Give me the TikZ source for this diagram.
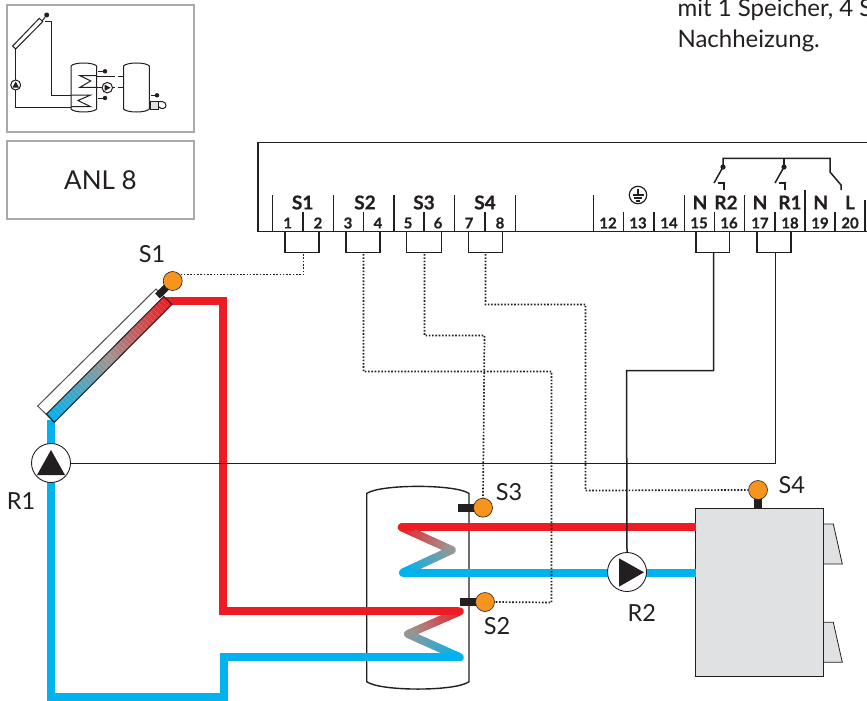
\documentclass[tikz,border=0pt]{standalone}
\usepackage{fontspec}
\setmainfont{Lato}
\usetikzlibrary{calc}
\definecolor{ink}{HTML}{231F20}
\definecolor{pipered}{HTML}{ED1C24}
\definecolor{pipeblue}{HTML}{00B2EE}
\definecolor{midgray}{HTML}{A09490}
\definecolor{sensorfill}{HTML}{F7941D}
\definecolor{boilerfill}{HTML}{DFE1E3}
\definecolor{framegray}{HTML}{A7A9AC}
\newcommand{\setgrad}[1]{%
  \pgfmathsetmacro{\gpa}{#1<0.5 ? 100-#1*200 : 0}%
  \pgfmathsetmacro{\gpb}{#1<0.5 ? 0 : #1*200-100}%
  \pgfmathtruncatemacro{\gsel}{#1<0.5 ? 1 : 0}%
  \ifnum\gsel=1 \colorlet{gc}{pipered!\gpa!midgray}\else\colorlet{gc}{pipeblue!\gpb!midgray}\fi}
\newcommand{\gradline}[3]{%
  \foreach \k in {0,...,19}{%
    \pgfmathsetmacro{\ta}{\k/20}%
    \pgfmathsetmacro{\tb}{(\k+1)/20}%
    \pgfmathsetmacro{\tg}{#3+(\k+0.5)/40}%
    \setgrad{\tg}%
    \draw[line width=8pt,line cap=round,color=gc] ($(#1)!\ta!(#2)$) -- ($(#1)!\tb!(#2)$);
  }}
\tikzset{
  frame/.style={draw=framegray,line width=1.2pt},
  redpipe/.style={draw=pipered,line width=8pt},
  bluepipe/.style={draw=pipeblue,line width=8pt},
  sensor/.style={circle,draw=ink,line width=0.6pt,fill=sensorfill,minimum size=19pt,inner sep=0pt},
  pumpnode/.style={circle,draw=ink,line width=0.9pt,fill=white,minimum size=39pt,inner sep=0pt},
  dotwire/.style={draw=ink,line width=1.7pt,dash pattern=on 1.6pt off 1.7pt},
  wire/.style={draw=ink,line width=1.5pt},
  block/.style={draw=ink,line width=1.5pt},
  lbl/.style={font=\fontsize{23.5}{25}\selectfont,text=ink,inner sep=0pt},
  body/.style={font=\fontsize{24}{26}\selectfont,text=ink,inner sep=0pt,anchor=base west},
  sname/.style={font=\fontsize{19}{20}\selectfont\bfseries\addfontfeature{FakeBold=0.5},text=ink,inner sep=0pt},
  tnum/.style={font=\fontsize{15}{17}\selectfont\bfseries\addfontfeature{FakeBold=0.5},text=ink,inner sep=0pt},
  ico/.style={draw=ink,line width=1pt},
}
\begin{document}
\begin{tikzpicture}[x=1pt,y=-1pt]
\useasboundingbox (0,0) rectangle (867,701);
% --- text top right
\node[body] (t1) at (677.3,16.5) {mit 1 Speicher, 4 S};
\node[body] (t2) at (677.3,47.5) {Nachheizung.};
% --- frames
\draw[frame] (7,5) rectangle (194,132);
\node[draw=framegray,line width=1.2pt,minimum width=187pt,minimum height=78pt,inner sep=0pt,font=\fontsize{26}{28}\selectfont,text=ink] (anl) at (100.5,180) {ANL 8};
% --- icon
\draw[ico,fill=white] (12.7,46) -- (39.3,18.3) -- (42.7,21.7) -- (15.7,49) -- cycle;
\node[circle,fill=ink,minimum size=5pt,inner sep=0pt] (id1) at (46.7,15) {};
\draw[ico] (id1) -- (42,21);
\draw[ico] (45,22) -- (51,22) -- (51,95) -- (71,95);
\draw[ico] (15.7,49) -- (15.7,107) -- (71,107);
\node[circle,draw=ink,line width=1pt,minimum size=10pt,inner sep=0pt,fill=white] (ip1) at (15.7,85) {};
\fill[ink] (15.7,81.5) -- (19,87.5) -- (12.4,87.5) -- cycle;
\draw[ico] (71,66) .. controls (74,62) and (93,62) .. (96.7,66) -- (96.7,109) .. controls (93,113) and (74,113) .. (71,109) -- cycle;
\draw[ico] (123.5,66) .. controls (127,62) and (146,62) .. (149.3,66) -- (149.3,109) .. controls (146,113) and (127,113) .. (123.5,109) -- cycle;
\draw[ico] (96.7,75.7) -- (80,75.7) -- (90.7,81) -- (80,87.3) -- (96.7,87.3);
\draw[ico] (71,95) -- (90.7,95) -- (78,100.5) -- (90.7,106.7) -- (71,106.7);
\node[circle,fill=ink,minimum size=4.5pt,inner sep=0pt] (id2) at (105,71.3) {};
\node[circle,fill=ink,minimum size=4.5pt,inner sep=0pt] (id3) at (105,98) {};
\node[circle,fill=ink,minimum size=4.5pt,inner sep=0pt] (id4) at (157,95.3) {};
\draw[ico] (98,71.3) -- (id2);
\draw[ico] (98,98) -- (id3);
\draw[ico] (151,95.3) -- (id4);
\draw[ico] (96.7,76) -- (115,76);
\draw[ico] (118,76) -- (123.5,76);
\draw[ico] (96.7,87.7) -- (115,87.7);
\draw[ico] (118,87.7) -- (123.5,87.7);
\node[circle,draw=ink,line width=1pt,minimum size=10.5pt,inner sep=0pt,fill=white] (ip2) at (107.3,87.7) {};
\fill[ink] (104.5,84.5) -- (110.5,87.7) -- (104.5,91) -- cycle;
\draw[ico,fill=boilerfill] (150.7,101.5) rectangle (158,109.3);
\draw[ico] (158,102) .. controls (160,101) and (166,101) .. (166,105.5) .. controls (166,109) and (161,109.5) .. (159,107);
% --- terminal block
\draw[block] (258,232) -- (258,142.7) -- (867,142.7);
\draw[block] (258,231.7) -- (867,231.7);
\foreach \x in {272.7,333.3,394,454.3,515.7,593.3,684.3,744.3}
  \draw[block] (\x,195) -- (\x,231.7);
\draw[block] (805,190) -- (805,231.7);
\draw[block] (865,200) -- (865,231.7);
\foreach \x in {303,363.7,424,485,623.7,654,714.3,775,835}
  \draw[block] (\x,212) -- (\x,231.7);
\node[sname] (nS1) at (302.7,202.5) {S1};
\node[sname] (nS2) at (365,202.5) {S2};
\node[sname] (nS3) at (424,202.5) {S3};
\node[sname] (nS4) at (485,202.5) {S4};
\node[sname] (nN1) at (700,202.5) {N};
\node[sname] (nR2) at (726,202.5) {R2};
\node[sname] (nN2) at (760,202.5) {N};
\node[sname] (nR1) at (790,202.5) {R1};
\node[sname] (nN3) at (820.7,202.5) {N};
\node[sname] (nL) at (850,202.5) {L};
\foreach \x/\n in {287.7/1,318/2,348/3,378/4,408/5,438/6,469/7,500/8,608/12,638/13,669/14,699/15,729/16,760/17,790/18,820/19,850/20}
  \node[tnum] (term\n) at (\x,223) {\n};
% earth
\draw[ink,line width=1.2pt] (638,195) circle (8.7pt);
\draw[ink,line width=1.1pt] (638,188.5) -- (638,195) (632.5,195) -- (643.5,195) (634,198) -- (642,198) (636,201) -- (640,201);
% relays
\draw[block] (723,167) -- (723,158.3) -- (830,158.3) -- (830,172) -- (841,185) -- (841,190);
\draw[block] (784,158.3) -- (784,167);
\fill[ink] (723,167) circle (2.6pt) (784,167) circle (2.6pt);
\draw[block] (723,167) -- (714,183);
\draw[block] (784,167) -- (775,183);
\draw[wire] (718,183) -- (724,183) -- (724,190);
\draw[wire] (779,183) -- (785,183) -- (785,190);
% connectors brackets
\foreach \a/\b in {285/319,346/380,406.7/441.3,468.3/502.3,696/729.7,757/791}
  \draw[block] (\a,231.7) -- (\a,252.5) -- (\b,252.5) -- (\b,231.7);
\coordinate (bS1) at (303.5,254);
\coordinate (bS2) at (363.5,254);
\coordinate (bS3) at (424.5,254);
\coordinate (bS4) at (485.5,254);
\coordinate (bR2) at (713.5,252.5);
\coordinate (bR1) at (775.5,252.5);
% --- tank
\draw[ink,line width=1.4pt] (366.7,493.5) .. controls (380,484) and (456,484) .. (469,493.5) -- (469,681.7) .. controls (456,691.5) and (380,691.5) .. (366.7,681.7) -- cycle;
% --- boiler
\draw[draw=ink,line width=0.8pt,fill=boilerfill] (823.3,524) -- (833.3,524) -- (842.3,564) -- (823.3,564) -- cycle;
\draw[draw=ink,line width=0.8pt,fill=boilerfill] (823.3,622.3) -- (833.3,622.3) -- (842.3,662.3) -- (823.3,662.3) -- cycle;
\node[draw=ink,line width=1.1pt,fill=boilerfill,minimum width=127.6pt,minimum height=168.4pt,inner sep=0pt] (boiler) at (759.5,592.5) {};
% --- pipes
\draw[redpipe] (165,300.7) -- (223.3,300.7) -- (223.3,611.3) -- (362,611.3) -- (456,611.3);
\draw[bluepipe] (51,420) -- (51,696.5) -- (224,696.5) -- (224,657.3) -- (456,657.3);
\draw[redpipe] (401.7,527.3) -- (696,527.3);
\draw[bluepipe] (403,572.5) -- (696,572.5);
% coils
\coordinate (cA) at (401.7,527.3);
\coordinate (cB) at (451.7,550);
\coordinate (cC) at (403,572.5);
\coordinate (cD) at (460,611.3);
\coordinate (cE) at (408,634);
\coordinate (cF) at (460,657.3);
\gradline{cA}{cB}{0}
\gradline{cB}{cC}{0.5}
\gradline{cD}{cE}{0}
\gradline{cE}{cF}{0.5}
\draw[line width=8pt,line cap=round,pipered] (401.7,527.3) -- (412,527.3);
\draw[line width=8pt,line cap=round,pipeblue] (403,572.5) -- (412,572.5);
\draw[line width=8pt,line cap=round,pipered] (440,611.3) -- (458,611.3);
\draw[line width=8pt,line cap=round,pipeblue] (440,657.3) -- (458,657.3);
% --- collector
\draw[ink!80,line width=1pt,fill=white] (37.7,406) -- (156,289) -- (171.7,304.3) -- (54.3,422.3) -- cycle;
\coordinate (pA) at (163.8,296.5);
\coordinate (pB) at (171.9,304.3);
\coordinate (pC) at (46.5,414);
\coordinate (pD) at (54.3,422.3);
\foreach \k in {0,...,39}{
  \pgfmathsetmacro{\ta}{\k/40}
  \pgfmathsetmacro{\tb}{(\k+1)/40}
  \pgfmathsetmacro{\tg}{(\k+0.5)/40}
  \setgrad{\tg}
  \filldraw[fill=gc,draw=gc,line width=0.4pt] ($(pA)!\ta!(pC)$) -- ($(pA)!\tb!(pC)$) -- ($(pB)!\tb!(pD)$) -- ($(pB)!\ta!(pD)$) -- cycle;
}
\foreach \k in {1,...,39}{
  \pgfmathsetmacro{\tb}{\k/40}
  \draw[white,opacity=0.18,line width=0.4pt] ($(pA)!\tb!(pC)$) -- ($(pB)!\tb!(pD)$);
}
\draw[ink,line width=0.9pt] (pA) -- (pB) -- (pD) -- (pC) -- cycle;
% --- sensors
\draw[ink,line width=7pt] (172.7,281) -- (157.5,296);
\draw[ink,line width=7.4pt] (458.3,508) -- (475,508);
\draw[ink,line width=7.4pt] (460,602) -- (477,602);
\draw[ink,line width=8pt] (758,492) -- (758,508);
\node[sensor] (sS1) at (172.7,281) {};
\node[sensor] (sS3) at (483,507.7) {};
\node[sensor] (sS2) at (485,602) {};
\node[sensor] (sS4) at (758,490) {};
% --- pumps
\node[pumpnode] (pR1) at (51,463) {};
\node[pumpnode] (pR2) at (627,572) {};
\fill[ink] (51,450) -- (65,475) -- (37,475) -- cycle;
\fill[ink] (619,558.3) -- (644,572.3) -- (619,586.7) -- cycle;
% --- wires
\draw[dotwire] (bS1) -- (303.5,274.5) -- (sS1.north east |- 303.5,274.5);
\draw[dotwire] (bS2) -- (363.5,371.5) -- (551.5,371.5) -- (551.5,602.5) -- (sS2.east);
\draw[dotwire] (bS3) -- (424.5,335.5) -- (484.5,335.5) -- (sS3.north);
\draw[dotwire] (bS4) -- (485.5,304.5) -- (585.5,304.5) -- (585.5,490.5) -- (sS4.west);
\draw[wire] (bR2) -- (713.5,370.5) -- (626.5,370.5) -- (pR2.north);
\draw[wire] (bR1) -- (775.5,463.5) -- (pR1.east |- 775.5,463.5);
% --- labels
\node[lbl] (lS1) at (152,254) {S1};
\node[lbl] (lR1) at (21,501) {R1};
\node[lbl] (lS3) at (509,492.5) {S3};
\node[lbl] (lS2) at (497,625.7) {S2};
\node[lbl] (lS4) at (791.7,485) {S4};
\node[lbl] (lR2) at (641.7,612.7) {R2};
\end{tikzpicture}
\end{document}
